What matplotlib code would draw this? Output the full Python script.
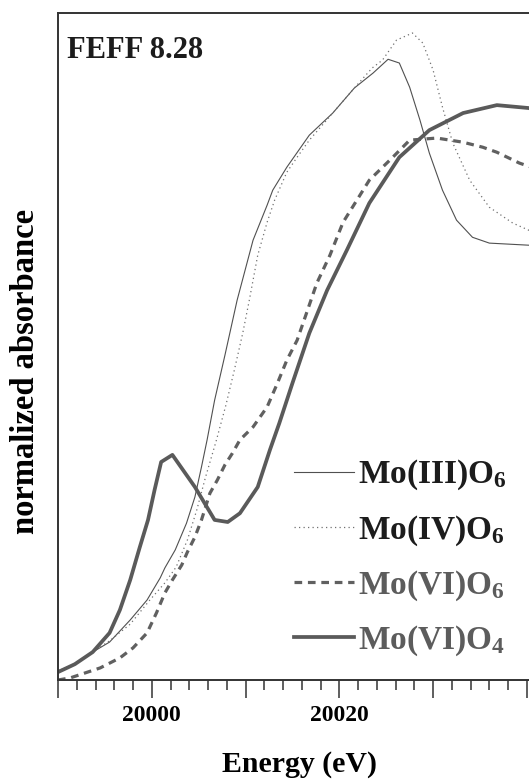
import numpy as np
import matplotlib
matplotlib.use('Agg')
import matplotlib.pyplot as plt
from matplotlib.ticker import MultipleLocator, FuncFormatter

plt.rcParams['font.family'] = ['Liberation Serif', 'DejaVu Serif']
plt.rcParams['font.weight'] = 'bold'
plt.rcParams['mathtext.fontset'] = 'custom'
plt.rcParams['mathtext.rm'] = 'Liberation Serif:bold'
plt.rcParams['mathtext.bf'] = 'Liberation Serif:bold'
plt.rcParams['mathtext.it'] = 'Liberation Serif:bold:italic'
plt.rcParams['mathtext.default'] = 'rm'

###### FEFF 8.28 XANES, Mo K-edge ######
E_mo3o6 = [19990.0, 19991.8, 19993.7, 19995.5, 19997.7, 19999.5, 20000.9, 20001.4,
           20002.5, 20003.7, 20004.6, 20005.3, 20005.9, 20006.7, 20007.8, 20009.1,
           20010.8, 20012.3, 20012.9, 20014.4, 20016.8, 20019.3, 20021.6, 20023.6,
           20025.2, 20026.4, 20027.5, 20028.6, 20029.6, 20031.0, 20032.5, 20034.2,
           20036.0, 20040.2, 20041.4]
mu_mo3o6 = [0.022, 0.038, 0.067, 0.091, 0.144, 0.192, 0.245, 0.269,
            0.312, 0.376, 0.439, 0.511, 0.576, 0.671, 0.779, 0.911,
            1.055, 1.139, 1.175, 1.230, 1.307, 1.360, 1.420, 1.456,
            1.489, 1.480, 1.422, 1.343, 1.264, 1.175, 1.103, 1.062,
            1.048, 1.043, 1.043]

E_mo4o6 = [19990.0, 19991.8, 19993.7, 19995.5, 19997.7, 19999.8, 20001.4, 20002.6,
           20003.8, 20004.8, 20005.7, 20006.9, 20007.9, 20008.8, 20009.7, 20010.4,
           20011.3, 20012.3, 20013.1, 20014.4, 20015.5, 20016.8, 20019.3, 20021.6,
           20023.5, 20024.6, 20026.1, 20027.8, 20028.9, 20030.0, 20031.0, 20032.1,
           20033.9, 20036.0, 20038.5, 20040.2, 20041.4]
mu_mo4o6 = [0.019, 0.038, 0.067, 0.094, 0.134, 0.192, 0.233, 0.271,
            0.336, 0.408, 0.484, 0.576, 0.659, 0.743, 0.832, 0.911,
            1.019, 1.098, 1.151, 1.218, 1.254, 1.295, 1.360, 1.420,
            1.468, 1.487, 1.535, 1.552, 1.528, 1.463, 1.374, 1.288,
            1.199, 1.134, 1.096, 1.079, 1.074]

E_mo6o6 = [19990.0, 19991.3, 19994.5, 19996.6, 19998.0, 19999.5, 20000.5, 20001.4,
           20002.2, 20003.2, 20003.8, 20004.6, 20005.3, 20006.2, 20007.0, 20007.8,
           20008.6, 20009.4, 20010.8, 20012.3, 20013.4, 20014.4, 20015.5, 20016.5,
           20017.6, 20019.0, 20020.4, 20023.2, 20025.7, 20027.5, 20030.4, 20033.2,
           20035.3, 20036.8, 20039.2, 20041.4]
mu_mo6o6 = [0.000, 0.005, 0.029, 0.053, 0.077, 0.113, 0.161, 0.209,
            0.240, 0.276, 0.307, 0.343, 0.384, 0.448, 0.480, 0.516,
            0.544, 0.576, 0.607, 0.655, 0.712, 0.767, 0.815, 0.880,
            0.952, 1.019, 1.098, 1.199, 1.254, 1.295, 1.300, 1.290,
            1.278, 1.266, 1.240, 1.223]

E_mo6o4 = [19990.0, 19991.8, 19993.7, 19995.5, 19996.6, 19997.7, 19998.7, 19999.6,
           20000.3, 20001.0, 20002.2, 20004.6, 20006.7, 20008.1, 20009.4, 20011.3,
           20012.6, 20013.6, 20015.0, 20016.8, 20018.7, 20020.8, 20023.2, 20026.4,
           20029.6, 20033.2, 20036.8, 20040.2, 20041.4]
mu_mo6o4 = [0.019, 0.038, 0.067, 0.113, 0.168, 0.240, 0.317, 0.384,
            0.456, 0.523, 0.540, 0.463, 0.384, 0.379, 0.400, 0.463,
            0.552, 0.616, 0.712, 0.832, 0.935, 1.031, 1.144, 1.254,
            1.319, 1.360, 1.379, 1.372, 1.365]

labels = ['Mo(III)O$_6$', 'Mo(IV)O$_6$', 'Mo(VI)O$_6$', 'Mo(VI)O$_4$']
label_colors = ['#1c1c1c', '#1c1c1c', '#5c5c5c', '#5c5c5c']

fig = plt.figure(figsize=(5.29, 7.83), dpi=100)
ax = fig.add_axes([58/529, 103/783, 482/529, 667/783])

l1, = ax.plot(E_mo3o6, mu_mo3o6, color='#505050', lw=0.8, ls='-')
l2, = ax.plot(E_mo4o6, mu_mo4o6, color='#707070', lw=0.9, ls=(0, (1, 2.6)))
l3, = ax.plot(E_mo6o6, mu_mo6o6, color='#606060', lw=2.3, ls=(0, (2.4, 1.8)))
l4, = ax.plot(E_mo6o4, mu_mo6o4, color='#5a5a5a', lw=2.7, ls='-')

ax.set_xlim(19990, 20041.4)
ax.set_ylim(0, 1.6)

# axes frame
for s in ['left', 'bottom', 'top']:
    ax.spines[s].set_linewidth(1.4)
    ax.spines[s].set_color('#333333')
ax.spines['right'].set_visible(False)

ax.set_yticks([])
ax.xaxis.set_major_locator(MultipleLocator(10))
ax.xaxis.set_minor_locator(MultipleLocator(2))
ax.xaxis.set_major_formatter(FuncFormatter(lambda v, p: '%d' % v if int(round(v)) % 20 == 0 and v < 20040 else ''))
ax.tick_params(axis='x', which='major', direction='out', length=13, width=1.1,
               color='#333333', labelsize=17, pad=5)
ax.tick_params(axis='x', which='minor', direction='out', length=7, width=1.1,
               color='#333333')

ax.set_xlabel('Energy (eV)', fontsize=21.5, fontweight='bold')
ax.xaxis.set_label_coords(0.5, -0.107)
ax.xaxis.label.set_va('top')
ax.set_ylabel('normalized absorbance', fontsize=23.5, fontweight='bold')
ax.yaxis.set_label_coords(-0.036, 0.463)

ax.text(0.019, 0.9325, 'FEFF 8.28', transform=ax.transAxes, fontsize=22,
        fontweight='bold', va='baseline', ha='left', color='#1c1c1c')

leg = ax.legend([l1, l2, l3, l4], labels, loc='upper left',
                bbox_to_anchor=(0.49, (680 - 458) / 667), frameon=False,
                fontsize=24, handlelength=1.8, handletextpad=0.12,
                labelspacing=0.62, borderpad=0, borderaxespad=0,
                labelcolor=label_colors)

fig.savefig('out.png', dpi=100)
